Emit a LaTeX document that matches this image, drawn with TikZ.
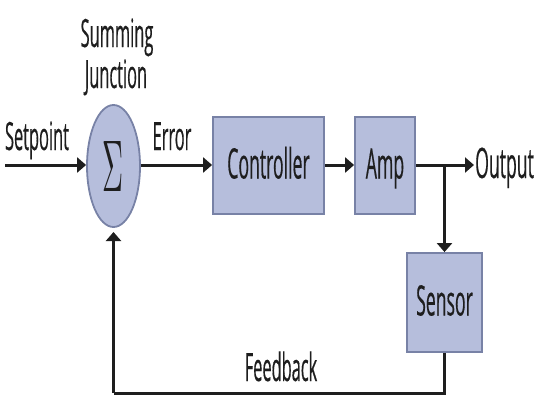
\documentclass[tikz,border=0pt]{standalone}
\usepackage{fontspec}
\usepackage{graphicx}
\usetikzlibrary{shapes.geometric,arrows.meta}
\newfontfamily\lblfont{Open Sans}[FakeStretch=0.42,FakeBold=0.35]
\definecolor{boxfill}{RGB}{182,190,220}
\definecolor{boxline}{RGB}{120,130,166}
\definecolor{ink}{RGB}{30,30,30}
\tikzset{
  blockbox/.style={draw=boxline,line width=1.8pt,fill=boxfill,inner sep=0pt,
    text=ink,font=\lblfont\fontsize{42}{46}\selectfont,text height=30pt,text depth=4pt},
  sumnode/.style={ellipse,draw=boxline,line width=1.8pt,fill=boxfill,inner sep=0pt,
    minimum width=53pt,minimum height=122pt},
  lbl/.style={text=ink,font=\lblfont\fontsize{39}{44}\selectfont,inner sep=0pt},
  conn/.style={draw=ink,line width=3pt},
  arr/.style={conn,-{Triangle[length=9pt,width=15pt]}}
}
\begin{document}
\begin{tikzpicture}[x=1pt,y=-1pt]
\useasboundingbox (0,0) rectangle (535,400);
% nodes
\node[sumnode,text=ink] (sum) at (113.5,166) {\resizebox{21pt}{50pt}{$\Sigma$}};
\node[blockbox,minimum width=111pt,minimum height=97pt] (ctrl) at (268.5,165.5) {Controller};
\node[blockbox,minimum width=60pt,minimum height=97pt] (amp) at (385,165.5) {Amp};
\node[blockbox,minimum width=75pt,minimum height=99pt] (sens) at (444.5,302.5) {Sensor};
% labels
\node[lbl,anchor=base] (sum1) at (117,47) {Summing};
\node[lbl,anchor=base] (sum2) at (116,88) {Junction};
\node[lbl,anchor=base] (setp) at (37,150) {Setpoint};
\node[lbl,anchor=base] (err) at (172,150) {Error};
\node[lbl,anchor=base west,font=\lblfont\fontsize{42}{46}\selectfont] (outl) at (475,178) {Output};
\node[lbl,anchor=base] (fbl) at (281,381) {Feedback};
% coordinates
\coordinate (start) at (5,165);
\coordinate (outp) at (474,165);
\coordinate (br) at (sens.north |- start);
\coordinate (fbtip) at (113.5,232);
\coordinate (fbcorner) at (113.5,393);
% connectors
\draw[arr] (start) -- (sum.west |- start);
\draw[arr] (sum.east |- start) -- (ctrl.west |- start);
\draw[arr] (ctrl.east |- start) -- (amp.west |- start);
\draw[arr] (amp.east |- start) -- (outp);
\draw[arr] (br) -- (sens.north);
\draw[conn] (sens.south) |- (fbcorner);
\draw[arr] (fbcorner) -- (fbtip);
\end{tikzpicture}
\end{document}
